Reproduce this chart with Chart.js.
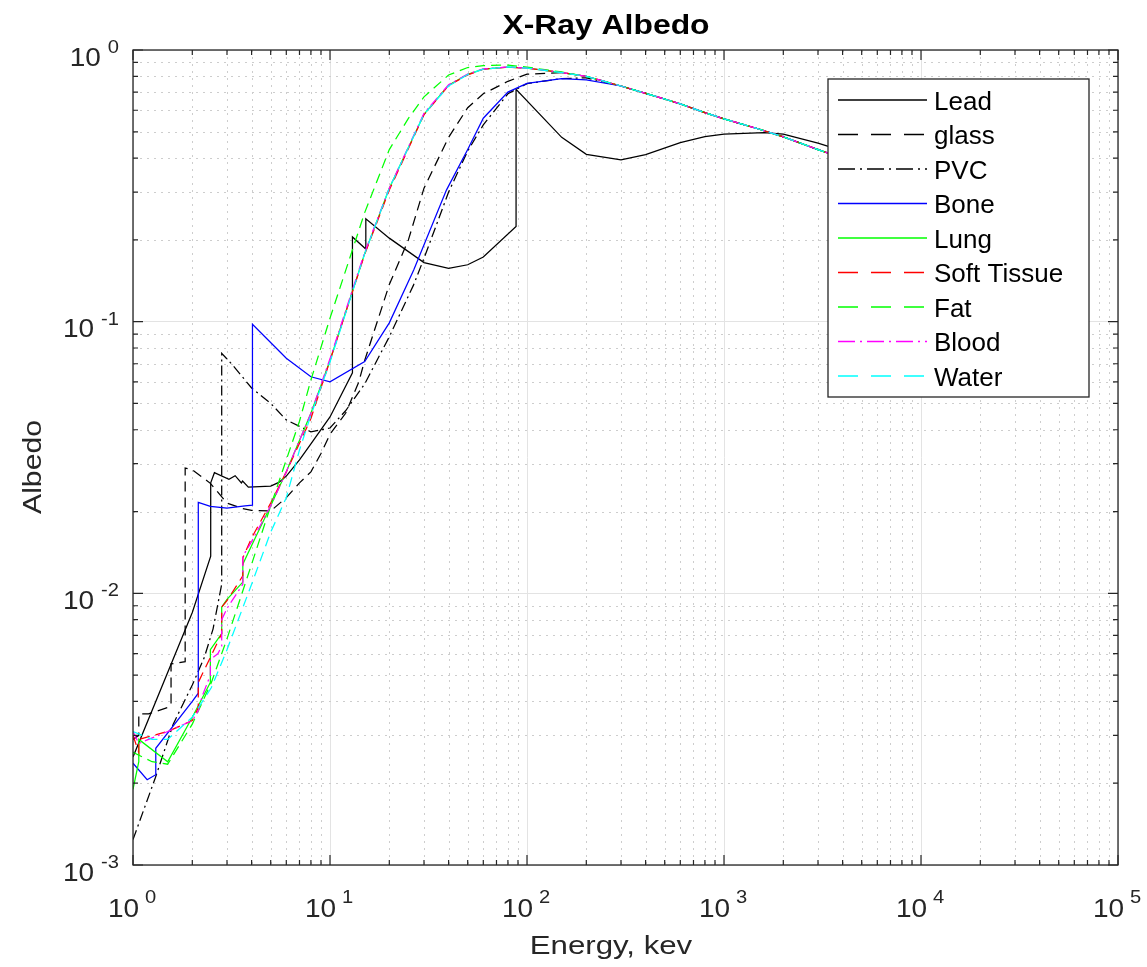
<!DOCTYPE html>
<html>
<head>
<meta charset="utf-8">
<title>X-Ray Albedo</title>
<script src="https://cdn.jsdelivr.net/npm/chart.js@4.4.1/dist/chart.umd.min.js"></script>
<style>
  body { margin: 0; background: #fff; }
  #wrap { position: relative; width: 1147px; height: 967px; }
</style>
</head>
<body>
<div id="wrap"><canvas id="chartAlbedo"></canvas></div>
<script>
// Energy (keV) / albedo pairs. A repeated energy is an absorption edge (vertical jump).
const leadE = [1, 2, 2.48, 2.48, 2.59, 3.07, 3.3, 3.55, 3.6, 3.85, 5, 5.5, 6, 7, 8, 10, 13, 13, 15.2, 15.2, 20, 30, 40, 50, 60, 88, 88, 150, 200, 300, 400, 600, 800, 1000, 1600, 2000, 3000, 4000, 5000, 10000];
const leadA = [0.0025, 0.0085, 0.0137, 0.0255, 0.0278, 0.0263, 0.0271, 0.0255, 0.0259, 0.0246, 0.0248, 0.0256, 0.027, 0.031, 0.0355, 0.0446, 0.0648, 0.205, 0.185, 0.239, 0.203, 0.165, 0.157, 0.162, 0.173, 0.224, 0.716, 0.477, 0.413, 0.394, 0.412, 0.456, 0.48, 0.49, 0.496, 0.49, 0.454, 0.425, 0.40, 0.34];

const glassE = [1, 1.07, 1.07, 1.2, 1.5, 1.56, 1.56, 1.84, 1.84, 2, 2.47, 3, 3.6, 4, 5, 6, 7, 8, 9, 10, 12, 14, 15, 20, 25, 30, 40, 50, 60, 80, 100, 150, 200, 300, 400, 500, 600, 800, 1000, 1500, 2000, 3000, 4000, 5000, 10000];
const glassA = [0.0029, 0.0030, 0.0036, 0.0036, 0.0038, 0.0039, 0.0055, 0.0056, 0.0289, 0.0285, 0.0254, 0.0215, 0.0205, 0.0202, 0.0201, 0.0225, 0.0255, 0.028, 0.0327, 0.0385, 0.046, 0.060, 0.072, 0.137, 0.20, 0.31, 0.477, 0.613, 0.69, 0.767, 0.815, 0.825, 0.80, 0.737, 0.692, 0.66, 0.633, 0.588, 0.558, 0.512, 0.479, 0.43, 0.40, 0.377, 0.32];

const pvcE = [1, 1.3, 1.6, 2, 2.3, 2.55, 2.82, 2.82, 3.2, 4, 5, 6, 8, 10, 12, 15, 20, 26.5, 30, 40, 50, 60, 80, 100, 150, 200, 300, 400, 500, 600, 800, 1000, 1500, 2000, 3000, 4000, 5000, 10000];
const pvcA = [0.00124, 0.0021, 0.0033, 0.0046, 0.0058, 0.0074, 0.0108, 0.0765, 0.0693, 0.057, 0.050, 0.0435, 0.0393, 0.0406, 0.047, 0.059, 0.088, 0.136, 0.171, 0.30, 0.425, 0.53, 0.69, 0.752, 0.785, 0.79, 0.737, 0.692, 0.66, 0.633, 0.588, 0.558, 0.512, 0.479, 0.43, 0.40, 0.377, 0.32];

const boneE = [1, 1.18, 1.305, 1.305, 2, 2.145, 2.145, 2.47, 3, 3.7, 4.04, 4.04, 6, 8, 10, 15, 20, 26.6, 39, 50, 60, 80, 100, 150, 200, 300, 400, 500, 600, 800, 1000, 1500, 2000, 3000, 4000, 5000, 10000];
const boneA = [0.00237, 0.00206, 0.00215, 0.00269, 0.0040, 0.00429, 0.0216, 0.0209, 0.0206, 0.0210, 0.0211, 0.0978, 0.0733, 0.0627, 0.0601, 0.0713, 0.099, 0.155, 0.305, 0.43, 0.561, 0.70, 0.754, 0.785, 0.776, 0.737, 0.692, 0.66, 0.633, 0.588, 0.558, 0.512, 0.479, 0.43, 0.40, 0.377, 0.32];

const lungE = [1, 1.07, 1.07, 1.5, 2, 2.47, 2.47, 2.7, 2.82, 2.82, 3, 3.61, 3.61, 4, 5, 6, 8, 10, 15, 20, 30, 40, 50, 60, 80, 100, 150, 200, 300, 400, 500, 600, 800, 1000, 1500, 2000, 3000, 4000, 5000, 10000];
const lungA = [0.0019, 0.0024, 0.0029, 0.0024, 0.0035, 0.0047, 0.0062, 0.0068, 0.0071, 0.0089, 0.0095, 0.011, 0.0128, 0.015, 0.021, 0.028, 0.046, 0.072, 0.178, 0.31, 0.58, 0.742, 0.813, 0.85, 0.865, 0.857, 0.826, 0.80, 0.737, 0.692, 0.66, 0.633, 0.588, 0.558, 0.512, 0.479, 0.43, 0.40, 0.377, 0.32];

const softE = [1, 1.07, 1.07, 1.5, 2, 2.145, 2.145, 2.82, 2.82, 3, 3.61, 3.61, 4, 5, 6, 8, 10, 15, 20, 30, 40, 50, 60, 80, 100, 150, 200, 300, 400, 500, 600, 800, 1000, 1500, 2000, 3000, 4000, 5000, 10000];
const softA = [0.0030, 0.0026, 0.0029, 0.0031, 0.0034, 0.0038, 0.0047, 0.0071, 0.0089, 0.0094, 0.0116, 0.0135, 0.016, 0.0215, 0.028, 0.044, 0.072, 0.177, 0.305, 0.578, 0.74, 0.81, 0.85, 0.865, 0.857, 0.826, 0.80, 0.737, 0.692, 0.66, 0.633, 0.588, 0.558, 0.512, 0.479, 0.43, 0.40, 0.377, 0.32];

const fatE = [1, 1.25, 1.5, 2, 2.5, 3, 4, 5, 6, 7, 8, 10, 15, 20, 25, 30, 40, 50, 60, 80, 100, 150, 200, 300, 400, 500, 600, 800, 1000, 1500, 2000, 3000, 4000, 5000, 10000];
const fatA = [0.0026, 0.0024, 0.00235, 0.0033, 0.0047, 0.0068, 0.0128, 0.021, 0.031, 0.043, 0.061, 0.103, 0.252, 0.43, 0.56, 0.672, 0.809, 0.862, 0.876, 0.88, 0.865, 0.83, 0.80, 0.737, 0.692, 0.66, 0.633, 0.588, 0.558, 0.512, 0.479, 0.43, 0.40, 0.377, 0.32];

const bloodE = [1, 1.07, 1.2, 1.5, 2, 2.145, 2.25, 2.47, 2.47, 2.7, 2.82, 2.82, 3, 3.61, 3.61, 4, 5, 6, 8, 10, 15, 20, 30, 40, 50, 60, 80, 100, 150, 200, 300, 400, 500, 600, 800, 1000, 1500, 2000, 3000, 4000, 5000, 10000];
const bloodA = [0.0031, 0.0028, 0.0029, 0.0031, 0.0034, 0.0037, 0.0042, 0.0050, 0.0057, 0.0060, 0.0064, 0.0080, 0.0088, 0.0108, 0.0137, 0.0155, 0.021, 0.028, 0.046, 0.073, 0.18, 0.31, 0.585, 0.745, 0.815, 0.852, 0.866, 0.858, 0.826, 0.80, 0.737, 0.692, 0.66, 0.633, 0.588, 0.558, 0.512, 0.479, 0.43, 0.40, 0.377, 0.32];

const waterE = [1, 1.25, 1.5, 2, 2.5, 3, 4, 5, 6, 7, 8, 10, 15, 20, 30, 40, 50, 60, 80, 100, 150, 200, 300, 400, 500, 600, 800, 1000, 1500, 2000, 3000, 4000, 5000, 10000];
const waterA = [0.0031, 0.0029, 0.0029, 0.0035, 0.0045, 0.0062, 0.0108, 0.0168, 0.0225, 0.0337, 0.0453, 0.071, 0.178, 0.31, 0.58, 0.737, 0.812, 0.85, 0.866, 0.858, 0.826, 0.80, 0.737, 0.692, 0.66, 0.633, 0.588, 0.558, 0.512, 0.479, 0.43, 0.40, 0.377, 0.32];

const seriesNames = ["Lead", "glass", "PVC", "Bone", "Lung", "Soft Tissue", "Fat", "Blood", "Water"];
const seriesE = [leadE, glassE, pvcE, boneE, lungE, softE, fatE, bloodE, waterE];
const seriesA = [leadA, glassA, pvcA, boneA, lungA, softA, fatA, bloodA, waterA];

// x axis decades 10^0..10^5, y axis decades 10^-3..10^0
const xExps = [0, 1, 2, 3, 4, 5];
const yExps = [-3, -2, -1, 0];

// styles
const colors = ["#000000", "#000000", "#000000", "#0000ff", "#00ff00", "#ff0000", "#00ff00", "#ff00ff", "#00ffff"];
const styles = ["solid", "dashed", "dashdot", "solid", "solid", "dashed", "dashed", "dashdot", "dashed"];
const plotDash = { solid: [], dashed: [10, 6], dashdot: [10, 4, 2, 4] };
const legendDash = { solid: [], dashed: [20, 13], dashdot: [17, 5, 2, 5] };
const FONT = '"Liberation Sans", Arial, Helvetica, sans-serif';
const AXIS = "#262626";

function logTicks(exps) {
    const out = [];
    for (let i = 0; i < exps.length - 1; i++) {
        for (let m = 1; m < 10; m++) out.push({ value: m * Math.pow(10, exps[i]), major: m === 1 });
    }
    out.push({ value: Math.pow(10, exps[exps.length - 1]), major: true });
    return out;
}

function textW(ctx, s, px, bold, sx) {
    ctx.save();
    ctx.font = (bold ? "bold " : "") + px + "px " + FONT;
    const w = ctx.measureText(s).width * sx;
    ctx.restore();
    return w;
}

function drawText(ctx, s, x, y, px, o) {
    ctx.save();
    ctx.translate(x, y);
    if (o.rot) ctx.rotate(o.rot);
    ctx.scale(o.sx || 1, 1);
    ctx.font = (o.bold ? "bold " : "") + px + "px " + FONT;
    ctx.textAlign = o.align || "left";
    ctx.textBaseline = "alphabetic";
    ctx.fillStyle = o.color || AXIS;
    ctx.fillText(s, 0, 0);
    ctx.restore();
}

const matlabLook = {
    id: "matlabLook",
    beforeDatasetsDraw(chart) {
        // dotted minor grid
        const { ctx, chartArea: a, scales } = chart;
        ctx.save();
        ctx.strokeStyle = "#cdcdcd";
        ctx.lineWidth = 1;
        ctx.setLineDash([2, 5]);
        scales.x.ticks.forEach(t => {
            if (t.major) return;
            const px = Math.round(scales.x.getPixelForValue(t.value)) + 0.5;
            ctx.beginPath(); ctx.moveTo(px, a.top); ctx.lineTo(px, a.bottom); ctx.stroke();
        });
        scales.y.ticks.forEach(t => {
            if (t.major) return;
            const py = Math.round(scales.y.getPixelForValue(t.value)) + 0.5;
            ctx.beginPath(); ctx.moveTo(a.left, py); ctx.lineTo(a.right, py); ctx.stroke();
        });
        ctx.restore();
    },
    afterDatasetsDraw(chart) {
        const { ctx, chartArea: a, scales } = chart;
        ctx.save();
        // box + inward ticks on all four sides
        ctx.strokeStyle = AXIS;
        ctx.lineWidth = 1.3;
        ctx.setLineDash([]);
        ctx.strokeRect(a.left, a.top, a.right - a.left, a.bottom - a.top);
        ctx.lineWidth = 1.2;
        scales.x.ticks.forEach(t => {
            const px = scales.x.getPixelForValue(t.value);
            const len = t.major ? 10 : 5;
            ctx.beginPath();
            ctx.moveTo(px, a.bottom); ctx.lineTo(px, a.bottom - len);
            ctx.moveTo(px, a.top); ctx.lineTo(px, a.top + len);
            ctx.stroke();
        });
        scales.y.ticks.forEach(t => {
            const py = scales.y.getPixelForValue(t.value);
            const len = t.major ? 10 : 5;
            ctx.beginPath();
            ctx.moveTo(a.left, py); ctx.lineTo(a.left + len, py);
            ctx.moveTo(a.right, py); ctx.lineTo(a.right - len, py);
            ctx.stroke();
        });

        // legend box inside the axes
        const lx = 828, ly = 79, lw = 261, lh = 318, row = 34.5;
        ctx.fillStyle = "#ffffff";
        ctx.fillRect(lx, ly, lw, lh);
        ctx.strokeStyle = AXIS;
        ctx.lineWidth = 1.3;
        ctx.strokeRect(lx, ly, lw, lh);
        chart.data.datasets.forEach((ds, i) => {
            const y = 100 + i * row;
            ctx.strokeStyle = colors[i];
            ctx.lineWidth = 1.3;
            ctx.setLineDash(legendDash[styles[i]]);
            ctx.beginPath(); ctx.moveTo(838, y); ctx.lineTo(927, y); ctx.stroke();
            drawText(ctx, ds.label, 934, y + 9.5, 26, { color: "#000000" });
        });
        ctx.restore();
    },
    afterDraw(chart) {
        const { ctx, chartArea: a, scales } = chart;
        const sx = 1.12;
        // x tick labels 10^n
        xExps.forEach(e => {
            const px = scales.x.getPixelForValue(Math.pow(10, e));
            drawText(ctx, "10", px - 25, a.bottom + 52, 25, { sx });
            drawText(ctx, String(e), px + 12, a.bottom + 38, 18, { sx });
        });
        // y tick labels 10^n, right aligned
        yExps.forEach(e => {
            const py = scales.y.getPixelForValue(Math.pow(10, e));
            const ex = String(e);
            const ew = textW(ctx, ex, 18, false, sx);
            drawText(ctx, ex, 119, py + 3, 18, { sx, align: "right" });
            drawText(ctx, "10", 119 - ew - 7, py + 15.5, 25, { sx, align: "right" });
        });
        // axis titles and chart title
        drawText(ctx, "Energy, kev", 611, 954, 26, { sx: 1.2, align: "center" });
        drawText(ctx, "Albedo", 41, 467, 26, { sx: 1.16, align: "center", rot: -Math.PI / 2 });
        drawText(ctx, "X-Ray Albedo", 606, 34, 27, { sx: 1.18, align: "center", bold: true, color: "#000000" });
    }
};

const datasets = seriesNames.map((name, i) => ({
    label: name,
    data: seriesE[i].map((e, k) => ({ x: e, y: seriesA[i][k] })),
    borderColor: colors[i],
    backgroundColor: colors[i],
    borderWidth: 1.25,
    borderDash: plotDash[styles[i]],
    showLine: true,
    pointRadius: 0,
    tension: 0,
    fill: false,
    order: seriesNames.length - i   // later series drawn on top, as in the original
}));

new Chart(document.getElementById("chartAlbedo").getContext("2d"), {
    type: "scatter",
    data: { datasets },
    options: {
        responsive: true,
        maintainAspectRatio: false,
        animation: false,
        layout: { padding: { top: 50, right: 29, left: 0, bottom: 0 } },
        plugins: { legend: { display: false }, title: { display: false }, tooltip: { enabled: false } },
        scales: {
            x: {
                type: "logarithmic", min: 1, max: 1e5,
                afterBuildTicks: s => { s.ticks = logTicks(xExps); },
                afterFit: s => { s.height = 102; },
                ticks: { display: false },
                border: { display: false },
                grid: { drawTicks: false, lineWidth: 1, color: c => (c.tick && c.tick.major) ? "#e3e3e3" : "rgba(0,0,0,0)" }
            },
            y: {
                type: "logarithmic", min: 1e-3, max: 1,
                afterBuildTicks: s => { s.ticks = logTicks(yExps); },
                afterFit: s => { s.width = 133; },
                ticks: { display: false },
                border: { display: false },
                grid: { drawTicks: false, lineWidth: 1, color: c => (c.tick && c.tick.major) ? "#e3e3e3" : "rgba(0,0,0,0)" }
            }
        }
    },
    plugins: [matlabLook]
});
</script>
</body>
</html>
